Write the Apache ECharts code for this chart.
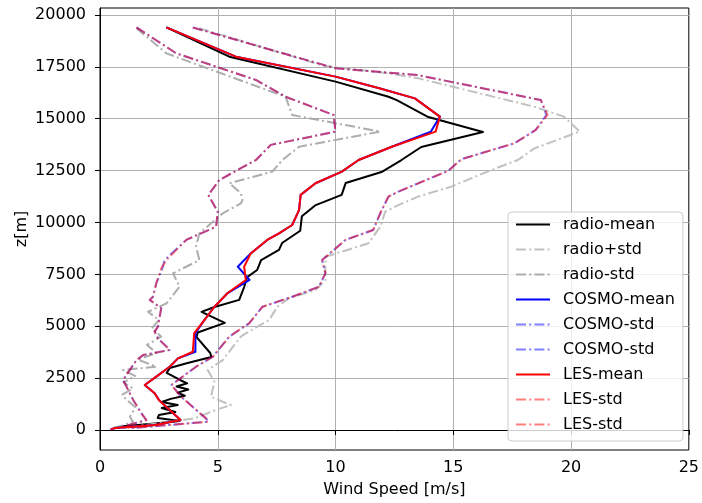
<!DOCTYPE html>
<html><head><meta charset="utf-8">
<script src="https://cdn.jsdelivr.net/npm/echarts@6/dist/echarts.min.js"></script>
<style>html,body{margin:0;padding:0;background:#fff}#c{width:702px;height:503px}</style>
</head><body><div id="c"></div>
<script>
const xTicks = [0, 5, 10, 15, 20, 25];
const yTicks = [0, 2500, 5000, 7500, 10000, 12500, 15000, 17500, 20000];

const radioMeanZ = [19400,17990,16790,16060,15900,15080,14360,13640,13010,12430,11900,11330,10840,10300,9600,9010,8680,8190,7710,7370,6890,6270,5930,5690,5160,4700,4480,3710,3520,3230,2990,2750,2410,2250,2100,1950,1800,1650,1500,1350,1200,1060,870,720,580,430,300,180,100];
const radioMeanV = [2.82,5.49,10.0,12.25,12.6,13.94,16.26,13.64,12.8,11.95,10.43,10.26,9.16,8.57,8.5,7.73,7.6,6.84,6.67,6.25,6.12,5.91,4.86,4.31,5.3,4.15,4.1,4.68,4.73,3.72,2.96,2.83,3.4,3.7,3.25,3.75,3.3,3.6,3.0,2.62,3.3,2.62,3.2,2.5,2.45,3.38,2.2,1.0,0.6];

const radioPlusZ = [19360,17550,17190,16950,15580,15100,14380,13570,13010,12530,11730,11250,10840,10520,9800,9000,8350,7230,6750,6350,5940,5300,4660,4500,3370,2890,2330,1600,1200,1000,560,250,100];
const radioPlusV = [4.22,9.5,12.25,13.51,18.44,19.7,20.37,18.44,17.74,16.61,14.92,13.51,12.67,12.11,11.9,11.4,9.57,9.57,9.15,8.02,7.53,7.18,6.19,5.98,5.21,4.57,4.86,4.71,5.56,5.0,4.01,2.0,1.0];

const radioMinusZ = [19360,18150,16060,15180,14380,13650,13010,12450,11890,11410,11080,10920,10440,9480,8840,8190,7550,6910,6100,5700,5300,4900,4500,4100,3700,3400,3050,2890,2600,2300,2000,1700,1450,1100,640,400,200,80];
const radioMinusV = [1.55,2.82,7.88,8.16,11.9,8.45,7.74,7.32,5.49,5.98,6.05,5.98,5.21,4.22,4.08,4.22,3.1,3.38,2.82,2.04,2.5,2.2,2.6,2.0,2.4,1.6,2.39,0.98,1.5,1.0,1.4,0.95,1.13,1.5,1.27,1.4,0.9,0.5];

const modelMeanZ = [19400,17990,17030,16480,15980,15100,14380,13650,13010,12450,11890,11330,10600,9880,9480,9160,8510,7870,7230,6600,5940,5300,4670,3770,3450,3050,2570,2170,1770,1450,960,480,240,100,30];
const cosmoMeanV = [2.82,5.77,10.0,11.82,13.37,14.43,14.05,12.39,10.98,10.27,9.15,8.52,8.45,8.16,7.6,7.1,6.4,5.85,6.35,5.42,4.86,4.43,4.05,4.05,3.31,2.96,2.39,1.9,2.32,2.5,2.96,3.42,2.35,0.65,0.45];
const lesMeanV   = [2.82,5.77,10.0,11.82,13.37,14.43,14.25,12.39,10.98,10.27,9.15,8.52,8.45,8.16,7.6,7.1,6.4,6.12,6.19,5.42,4.86,4.43,4.0,3.94,3.31,2.96,2.39,1.9,2.32,2.5,2.96,3.42,2.35,0.65,0.45];

const modelPlusZ = [19400,17430,17100,15900,15180,14460,13820,13050,12500,11490,11250,10600,9640,9160,8190,7550,6900,6420,5940,5140,4500,3530,3050,2170,1600,1040,560,400,200,80];
const cosmoPlusV = [3.94,10.0,13.51,18.72,18.95,18.5,17.6,15.34,14.8,12.67,12.25,11.96,11.6,10.42,9.43,9.57,9.29,8.16,6.9,6.33,5.49,4.79,4.08,3.03,3.45,4.01,4.5,4.6,2.5,1.2];
const lesPlusV   = [3.94,10.0,13.51,18.72,19.0,18.5,17.6,15.34,14.8,12.67,12.25,11.96,11.6,10.42,9.43,9.57,9.29,8.16,6.9,6.33,5.49,4.79,4.08,3.03,3.45,4.01,4.5,4.6,2.5,1.2];

const modelMinusZ = [19400,18150,16870,16060,15180,14380,13740,13010,12050,11330,10520,9800,9160,8190,7790,7070,6420,6270,5870,4980,4740,4420,3860,3610,3370,2410,1450,800,480,80];
const cosmoMinusV = [1.55,3.24,6.62,7.88,9.92,10.0,7.25,6.62,5.07,4.6,5.0,4.93,3.66,2.74,2.65,2.39,2.25,2.11,2.6,2.46,2.32,2.46,2.96,1.83,1.55,0.98,1.41,1.76,1.97,0.7];
const lesMinusV   = [1.55,3.24,6.62,7.88,9.92,10.0,7.25,6.62,5.07,4.6,5.0,4.93,3.66,2.82,2.6,2.39,2.25,2.11,2.6,2.46,2.32,2.46,2.96,1.83,1.55,0.98,1.41,1.76,1.97,0.7];

const FONT = 'DejaVu Sans';
const DASHDOT = [10, 3.2, 2, 3.2];

function pairs(v, z) { return v.map((x, i) => [x, z[i]]); }
function line(name, v, z, color, dashed) {
  return {
    name: name, type: 'line', data: pairs(v, z), symbol: 'none', showSymbol: false,
    smooth: false, clip: true, silent: true,
    lineStyle: { color: color, width: 2, type: dashed ? DASHDOT : 'solid', cap: 'butt', join: 'round' },
    itemStyle: { color: color }
  };
}

const series = [
  line('radio-mean', radioMeanV, radioMeanZ, '#000000', false),
  line('radio+std', radioPlusV, radioPlusZ, 'rgba(190,190,190,0.95)', true),
  line('radio-std', radioMinusV, radioMinusZ, 'rgba(169,169,169,0.95)', true),
  line('COSMO-mean', cosmoMeanV, modelMeanZ, '#0000ff', false),
  line('COSMO-std', cosmoPlusV, modelPlusZ, 'rgba(0,0,255,0.5)', true),
  line('COSMO-std ', cosmoMinusV, modelMinusZ, 'rgba(0,0,255,0.5)', true),
  line('LES-mean', lesMeanV, modelMeanZ, '#ff0000', false),
  line('LES-std', lesPlusV, modelPlusZ, 'rgba(255,0,0,0.5)', true),
  line('LES-std ', lesMinusV, modelMinusZ, 'rgba(255,0,0,0.5)', true)
];

const chart = echarts.init(document.getElementById('c'), null, { renderer: 'canvas' });
chart.setOption({
  animation: false,
  backgroundColor: '#ffffff',
  textStyle: { fontFamily: FONT },
  grid: { left: 100, right: 10, top: 8, bottom: 53, show: true, borderColor: '#000', borderWidth: 1, backgroundColor: 'transparent' },
  xAxis: {
    type: 'value', min: xTicks[0], max: xTicks[xTicks.length - 1], interval: 5,
    name: 'Wind Speed [m/s]', nameLocation: 'middle', nameGap: 32, nameMoveOverlap: false,
    nameTextStyle: { fontFamily: FONT, fontSize: 16, color: '#000' },
    axisLine: { show: true, lineStyle: { color: '#000', width: 1 } },
    axisTick: { show: true, length: 5, inside: false, lineStyle: { color: '#000' } },
    axisLabel: { fontFamily: FONT, fontSize: 16, color: '#000', margin: 10, formatter: v => String(v) },
    splitLine: { show: true, lineStyle: { color: '#b0b0b0', width: 1 } }
  },
  yAxis: {
    type: 'value', min: -964, max: 20337,
    name: 'z[m]', nameLocation: 'middle', nameGap: 70, nameMoveOverlap: false,
    nameTextStyle: { fontFamily: FONT, fontSize: 16, color: '#000' },
    axisLine: { show: true, lineStyle: { color: '#000', width: 1 } },
    axisTick: { show: true, length: 5, inside: false, customValues: yTicks, lineStyle: { color: '#000' } },
    axisLabel: { fontFamily: FONT, fontSize: 16, color: '#000', margin: 14, customValues: yTicks, formatter: v => String(v) },
    splitLine: { show: true, lineStyle: { color: '#b0b0b0', width: 1 } }
  },
  legend: {
    orient: 'vertical', left: 508, top: 212,
    padding: [0, 8, 4, 7], itemGap: 0, itemWidth: 34, itemHeight: 14,
    backgroundColor: 'rgba(255,255,255,0.8)', borderColor: '#cccccc', borderWidth: 1, borderRadius: 4,
    selectedMode: false,
    itemStyle: { color: 'rgba(0,0,0,0)', borderWidth: 0, opacity: 0 },
    textStyle: { fontFamily: FONT, fontSize: 16, color: '#000', lineHeight: 25, padding: [0, 0, 0, 8] },
    data: series.map(s => s.name)
  },
  series: series
});
</script>
</body></html>
